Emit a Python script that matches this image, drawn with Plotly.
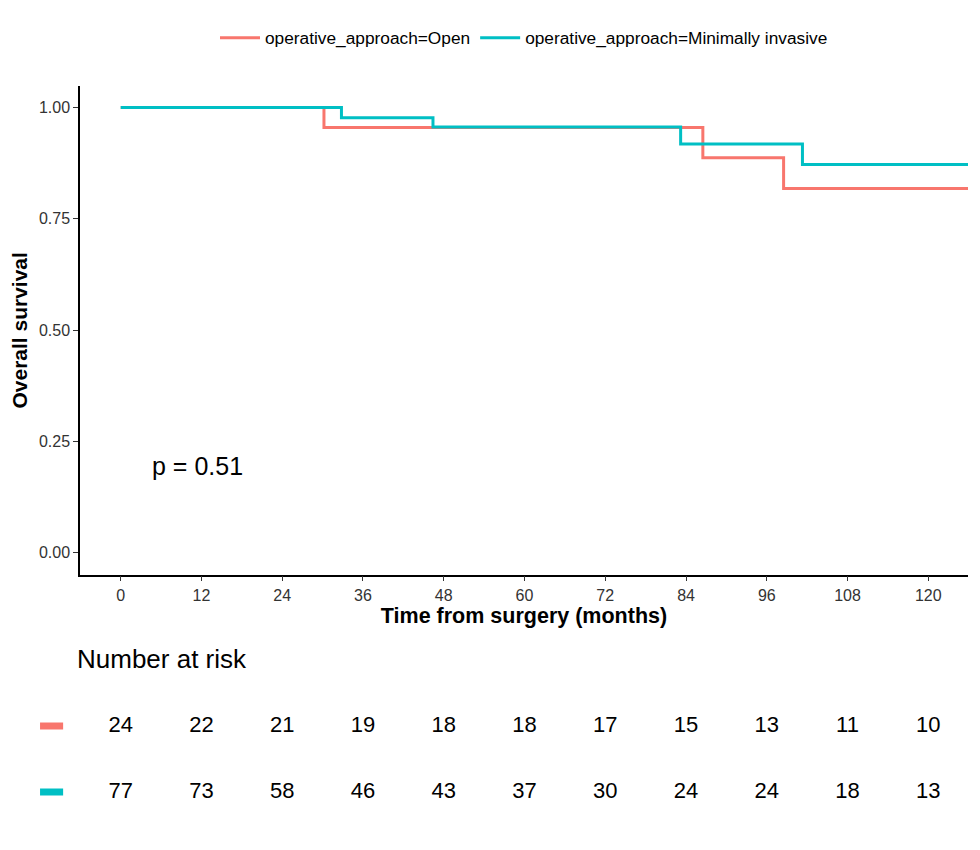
import plotly.graph_objects as go

# ---- data ----
groups = ["operative_approach=Open", "operative_approach=Minimally invasive"]
colors = ["#F8766D", "#00BFC4"]

open_time = [0, 30.2, 86.5, 98.5, 126]
open_surv = [1.0, 0.955, 0.887, 0.818, 0.818]

mi_time = [0, 32.8, 46.4, 83.2, 101.3, 126]
mi_surv = [1.0, 0.977, 0.956, 0.918, 0.872, 0.872]

risk_times = [0, 12, 24, 36, 48, 60, 72, 84, 96, 108, 120]
risk_open = [24, 22, 21, 19, 18, 18, 17, 15, 13, 11, 10]
risk_mi = [77, 73, 58, 46, 43, 37, 30, 24, 24, 18, 13]

y_ticks = [0, 0.25, 0.5, 0.75, 1.0]
p_text = "p = 0.51"

FONT = "Liberation Sans, Arial, sans-serif"
XR = [-6.05, 125.9]

W, H = 972, 842
ML, MR, MT, MB = 72, 12, 78, 12
PH = H - MT - MB

def yfrac(py):
    return (H - MB - py) / PH

fig = go.Figure()
for t, s, name, c in [(open_time, open_surv, groups[0], colors[0]),
                      (mi_time, mi_surv, groups[1], colors[1])]:
    fig.add_trace(go.Scatter(x=t, y=s, mode="lines", name=name,
                             line=dict(color=c, width=3, shape="hv"),
                             xaxis="x", yaxis="y"))

# risk table
for vals, row, c in [(risk_open, 1, colors[0]), (risk_mi, 0, colors[1])]:
    fig.add_trace(go.Scatter(x=risk_times, y=[row] * len(vals), mode="text",
                             text=[str(v) for v in vals],
                             textfont=dict(size=22, color="black", family=FONT),
                             showlegend=False, xaxis="x2", yaxis="y2",
                             hoverinfo="skip", cliponaxis=False))
    fig.add_shape(type="line", xref="paper", yref="y2",
                  x0=-0.045, x1=-0.019, y0=row, y1=row,
                  line=dict(color=c, width=7))

fig.add_annotation(x=4.4, y=0.196, xref="x", yref="y", text=p_text,
                   showarrow=False, xanchor="left", yanchor="middle",
                   font=dict(size=25, color="black", family=FONT))
fig.add_annotation(x=-0.006, y=yfrac(651), xref="paper", yref="paper", text="Number at risk",
                   showarrow=False, xanchor="left", yanchor="middle",
                   font=dict(size=26, color="black", family=FONT))

fig.update_layout(
    width=W, height=H,
    margin=dict(l=ML, r=MR, t=MT, b=MB, autoexpand=False),
    paper_bgcolor="white", plot_bgcolor="white",
    font=dict(family=FONT, color="black"),
    legend=dict(orientation="h", x=0.5, xanchor="center", xref="paper",
                y=1 - 30 / H, yanchor="middle", yref="container",
                itemwidth=40,
                font=dict(size=17.3, color="black", family=FONT)),
    xaxis=dict(domain=[0, 1], range=XR, tickvals=risk_times,
               showline=True, linecolor="black", linewidth=1.5,
               ticks="outside", ticklen=5, tickcolor="#333", tickwidth=1.2,
               tickfont=dict(size=16, color="#333", family=FONT),
               showgrid=False, zeroline=False, anchor="y",
               title=dict(text="<b>Time from surgery (months)</b>",
                          font=dict(size=21.5, color="black", family=FONT), standoff=2)),
    yaxis=dict(domain=[yfrac(566.7), 1], range=[-0.049, 1.048], tickvals=y_ticks,
               tickformat=".2f",
               showline=True, linecolor="black", linewidth=1.5,
               ticks="outside", ticklen=5, tickcolor="#333", tickwidth=1.2,
               tickfont=dict(size=16, color="#333", family=FONT),
               showgrid=False, zeroline=False, anchor="x",
               title=dict(text="<b>Overall survival</b>",
                          font=dict(size=21, color="black", family=FONT), standoff=10)),
    xaxis2=dict(domain=[0, 1], range=XR, visible=False, anchor="y2"),
    yaxis2=dict(domain=[yfrac(817), yfrac(685)], range=[-0.5, 1.5], visible=False, anchor="x2"),
)

fig.write_html("out.html")
